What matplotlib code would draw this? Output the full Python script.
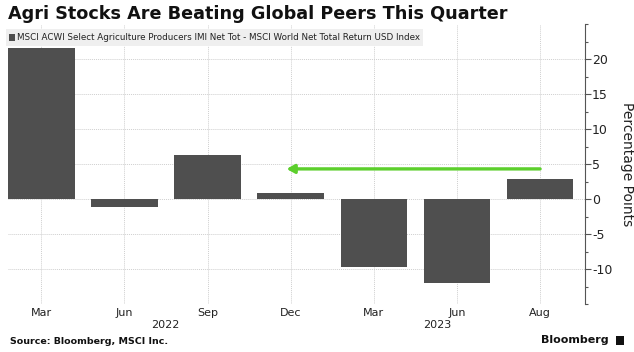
import matplotlib.pyplot as plt
import numpy as np
from matplotlib.ticker import MultipleLocator

plt.rcParams['axes.unicode_minus'] = False

# quarterly relative return, agri producers minus MSCI World (pct points)
months = ["Mar", "Jun", "Sep", "Dec", "Mar", "Jun", "Aug"]
values = [21.6, -1.1, 6.3, 0.9, -9.7, -12.0, 2.9]
years = ["2022", "2023"]
year_pos = [1.49, 4.76]
arrow_from = (6.0, 4.3)
arrow_to = (2.95, 4.3)

bar_color = "#4f4f4f"
grid_color = "#cfcfcf"
text_color = "#222222"

fig = plt.figure(figsize=(6.34, 3.52), dpi=100)
ax = fig.add_axes([8 / 634, 1 - 304 / 352, (585 - 8) / 634, (304 - 24) / 352])

x = np.arange(len(values))
ax.bar(x, values, width=0.8, color=bar_color, zorder=2)

ax.set_xlim(-0.4, 6.54)
ax.set_ylim(-15, 25)

# axis on the right, ticks outward
ax.yaxis.tick_right()
ax.yaxis.set_minor_locator(MultipleLocator(2.5))
ax.set_yticks([-10, -5, 0, 5, 10, 15, 20])
ax.tick_params(axis="y", which="major", length=4, width=0.8, color="#555555",
               labelsize=9, labelcolor=text_color, pad=1)
ax.tick_params(axis="y", which="minor", length=2.5, width=0.8, color="#555555")
fig.text(627 / 634, 1 - 164 / 352, "Percentage Points", rotation=270, fontsize=10,
         color=text_color, ha="center", va="center")

ax.set_xticks(x)
ax.set_xticklabels(months)
ax.tick_params(axis="x", length=0, labelsize=8, labelcolor=text_color, pad=3)
for yr, pos in zip(years, year_pos):
    ax.text(pos, -0.075, yr, transform=ax.get_xaxis_transform(), ha="center", va="center",
            fontsize=8, color=text_color)

for s in ["top", "left", "bottom"]:
    ax.spines[s].set_visible(False)
ax.spines["right"].set_color("#555555")
ax.spines["right"].set_linewidth(0.8)

ax.grid(True, which="major", linestyle=(0, (1, 1)), color=grid_color, linewidth=0.7, zorder=0)
ax.set_axisbelow(True)
# dotted baseline at the bottom
ax.axhline(-15, linestyle=(0, (1, 1)), color=grid_color, linewidth=0.7, zorder=0)

# green arrow
ax.annotate("", xy=arrow_to, xytext=arrow_from,
            arrowprops=dict(arrowstyle="-|>,head_length=0.45,head_width=0.25",
                            color="#5ccf2c", lw=2.4, shrinkA=0, shrinkB=0), zorder=3)

# legend box
fig.patches.append(plt.Rectangle((6 / 634, 1 - 46 / 352), 417 / 634, 17 / 352,
                                 transform=fig.transFigure, facecolor="#efefef",
                                 edgecolor="none", zorder=1))
fig.patches.append(plt.Rectangle((9 / 634, 1 - 40.5 / 352), 6 / 634, 6 / 352,
                                 transform=fig.transFigure, facecolor=bar_color,
                                 edgecolor="none", zorder=2))
fig.text(17 / 634, 1 - 37.5 / 352,
         "MSCI ACWI Select Agriculture Producers IMI Net Tot - MSCI World Net Total Return USD Index",
         fontsize=6.3, color=text_color, va="center", ha="left")

fig.text(8 / 634, 1 - 14 / 352, "Agri Stocks Are Beating Global Peers This Quarter",
         fontsize=12.7, fontweight="bold", color="#111111", va="center", ha="left")
fig.text(10 / 634, 1 - 342 / 352, "Source: Bloomberg, MSCI Inc.",
         fontsize=6.8, fontweight="bold", color="#111111", va="center", ha="left")
fig.text(609 / 634, 1 - 340 / 352, "Bloomberg", fontsize=8, fontweight="bold",
         color="#111111", va="center", ha="right")
fig.patches.append(plt.Rectangle((616 / 634, 1 - 345 / 352), 8 / 634, 9 / 352,
                                 transform=fig.transFigure, facecolor="#111111",
                                 edgecolor="none"))

fig.savefig("out.png", dpi=100, facecolor="white")
